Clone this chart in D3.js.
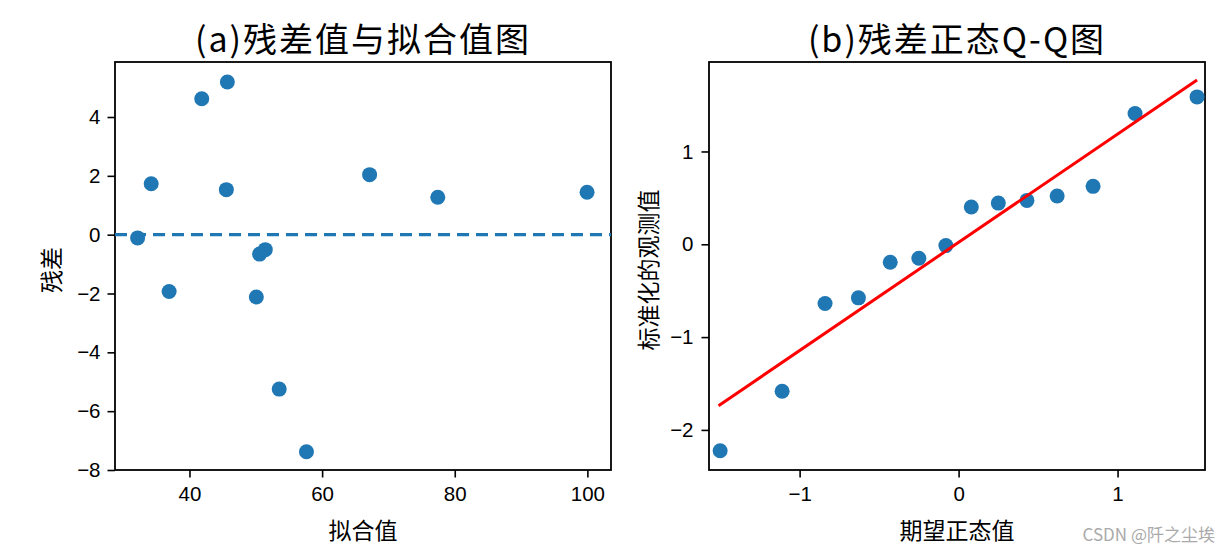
<!DOCTYPE html>
<html>
<head>
<meta charset="utf-8">
<script src="https://cdn.jsdelivr.net/npm/d3@7"></script>
<style>
  html, body { margin: 0; padding: 0; background: #fff; }
  svg { display: block; }
  text { font-family: "Noto Sans CJK SC", "Liberation Sans", sans-serif; fill: #000; }
  .tick text { font-family: "Liberation Sans", "Noto Sans CJK SC", sans-serif; }
</style>
</head>
<body>
<svg id="chart" width="1231" height="555"></svg>
<script>
// ---- data: panel (a) residuals vs fitted ----
const fittedValues = [32.18, 34.23, 36.93, 41.85, 45.71, 45.56, 50.08, 50.57, 51.43, 53.53, 57.64, 67.16, 77.44, 99.95];
const residuals    = [-0.11, 1.73, -1.93, 4.62, 5.19, 1.53, -2.12, -0.66, -0.51, -5.25, -7.38, 2.04, 1.27, 1.44];
const aXTicks = [40, 60, 80, 100];
const aYTicks = [-8, -6, -4, -2, 0, 2, 4];
const aXDomain = [28.77, 103.56];
const aYDomain = [-8.0, 5.87];

// ---- data: panel (b) normal Q-Q ----
const theoQuantiles = [-1.50, -1.11, -0.84, -0.63, -0.43, -0.25, -0.08, 0.08, 0.25, 0.43, 0.62, 0.846, 1.11, 1.50];
const stdResiduals  = [-2.225, -1.584, -0.638, -0.577, -0.194, -0.151, -0.014, 0.401, 0.444, 0.473, 0.520, 0.624, 1.409, 1.588];
const refLineX = [-1.51, 1.50];
const refLineY = [-1.74, 1.77];
const bXTicks = [-1, 0, 1];
const bYTicks = [-2, -1, 0, 1];
const bXDomain = [-1.57, 1.55];
const bYDomain = [-2.432, 1.964];

const titles = ["(a)残差值与拟合值图", "(b)残差正态Q-Q图"];
const xLabels = ["拟合值", "期望正态值"];
const yLabels = ["残差", "标准化的观测值"];

const svg = d3.select("#chart");
const blue = "#1f77b4";
const fmt = d => (d < 0 ? "\u2212" + Math.abs(d) : String(d));

function panel(box, xDomain, yDomain, xTicks, yTicks, title, xLabel, yLabel, yLabelX, yTickPad) {
  const x = d3.scaleLinear().domain(xDomain).range([box.left, box.right]);
  const y = d3.scaleLinear().domain(yDomain).range([box.bottom, box.top]);
  const g = svg.append("g");

  const xAxis = g.append("g")
    .attr("transform", `translate(0,${box.bottom})`)
    .call(d3.axisBottom(x).tickValues(xTicks).tickFormat(fmt).tickSize(7.5).tickPadding(6));
  const yAxis = g.append("g")
    .attr("transform", `translate(${box.left},0)`)
    .call(d3.axisLeft(y).tickValues(yTicks).tickFormat(fmt).tickSize(7.5).tickPadding(yTickPad));
  [xAxis, yAxis].forEach(a => {
    a.select(".domain").remove();
    a.selectAll(".tick line").attr("stroke", "#000").attr("stroke-width", 1.6);
    a.selectAll(".tick text").attr("font-size", 20.5).attr("fill", "#000");
  });
  xAxis.selectAll(".tick text").attr("dy", "0.85em");

  g.append("rect")
    .attr("x", box.left).attr("y", box.top)
    .attr("width", box.right - box.left).attr("height", box.bottom - box.top)
    .attr("fill", "none").attr("stroke", "#000").attr("stroke-width", 1.8);

  g.append("text")
    .attr("x", (box.left + box.right) / 2).attr("y", 37)
    .attr("text-anchor", "middle").attr("dominant-baseline", "central")
    .attr("font-size", 34).attr("letter-spacing", 2)
    .text(title);

  g.append("text")
    .attr("x", (box.left + box.right) / 2).attr("y", 529)
    .attr("text-anchor", "middle").attr("dominant-baseline", "central")
    .attr("font-size", 23)
    .text(xLabel);

  const cy = (box.top + box.bottom) / 2 + 4;
  g.append("text")
    .attr("transform", `translate(${yLabelX},${cy}) rotate(-90)`)
    .attr("text-anchor", "middle").attr("dominant-baseline", "central")
    .attr("font-size", 23)
    .text(yLabel);

  return { x, y, g };
}

// Panel (a)
const A = panel({ left: 115, right: 611, top: 62, bottom: 470 },
  aXDomain, aYDomain, aXTicks, aYTicks, titles[0], xLabels[0], yLabels[0], 50, 7);

A.g.append("line")
  .attr("x1", A.x(aXDomain[0])).attr("x2", A.x(aXDomain[1]))
  .attr("y1", A.y(0)).attr("y2", A.y(0))
  .attr("stroke", blue).attr("stroke-width", 3.2)
  .attr("stroke-dasharray", "12,7");

A.g.append("g").selectAll("circle")
  .data(fittedValues.map((f, i) => [f, residuals[i]]))
  .join("circle")
  .attr("cx", d => A.x(d[0])).attr("cy", d => A.y(d[1]))
  .attr("r", 7.5).attr("fill", blue);

// Panel (b)
const B = panel({ left: 709, right: 1205, top: 62, bottom: 470 },
  bXDomain, bYDomain, bXTicks, bYTicks, titles[1], xLabels[1], yLabels[1], 647, 8);

B.g.append("g").selectAll("circle")
  .data(theoQuantiles.map((q, i) => [q, stdResiduals[i]]))
  .join("circle")
  .attr("cx", d => B.x(d[0])).attr("cy", d => B.y(d[1]))
  .attr("r", 7.5).attr("fill", blue);

B.g.append("line")
  .attr("x1", B.x(refLineX[0])).attr("y1", B.y(refLineY[0]))
  .attr("x2", B.x(refLineX[1])).attr("y2", B.y(refLineY[1]))
  .attr("stroke", "#ff0000").attr("stroke-width", 3);

// Watermark
svg.append("text")
  .attr("x", 1215).attr("y", 533)
  .attr("text-anchor", "end").attr("dominant-baseline", "central")
  .attr("font-size", 17).style("fill", "#aaaaaa")
  .text("CSDN @阡之尘埃");
</script>
</body>
</html>
